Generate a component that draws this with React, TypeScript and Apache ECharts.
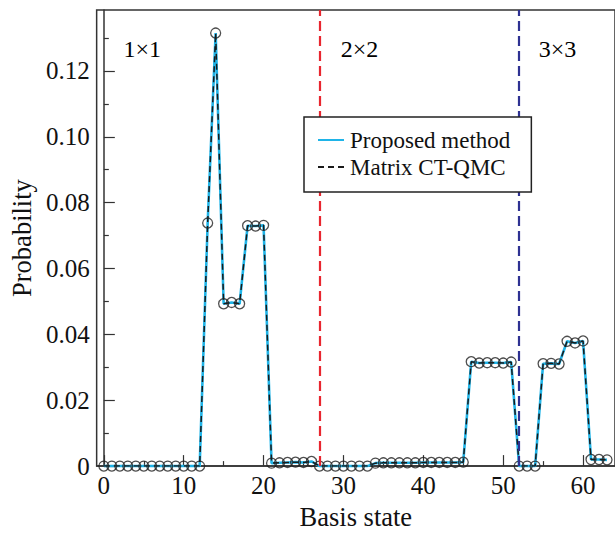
import React, { useEffect, useRef } from "react";
import * as echarts from "echarts";

const states: number[] = Array.from({ length: 64 }, (_, i) => i);

const proposed: number[] = [
  0, 0, 0, 0, 0, 0, 0, 0, 0, 0, 0, 0, 0,
  0.0738, 0.1315, 0.0493, 0.0497, 0.0493, 0.073, 0.0729, 0.0731,
  0.0009, 0.001, 0.0011, 0.0012, 0.0011, 0.0014,
  0, 0, 0, 0, 0, 0, 0,
  0.0009, 0.001, 0.001, 0.001, 0.001, 0.001, 0.0011, 0.0011, 0.0011, 0.0011, 0.0011, 0.0012,
  0.0317, 0.0313, 0.0314, 0.0314, 0.0313, 0.0316,
  0, 0, 0,
  0.0311, 0.0312, 0.031, 0.0379, 0.0374, 0.038,
  0.002, 0.002, 0.0019,
];

const matrixCTQMC: number[] = proposed.slice();

const xMajorTicks: number[] = [0, 10, 20, 30, 40, 50, 60];
const xMinorTicks: number[] = [5, 15, 25, 35, 45, 55];
const yMajorTicks: number[] = [0, 0.02, 0.04, 0.06, 0.08, 0.1, 0.12];
const yMinorTicks: number[] = [0.01, 0.03, 0.05, 0.07, 0.09, 0.11, 0.13];

const dividers: number[] = [27, 52];
const dividerColors: string[] = ["#e8262f", "#2e3192"];

const regionLabels: string[] = ["1×1", "2×2", "3×3"];
const regionLabelX: number[] = [4.8, 32, 56.8];
const regionLabelY: number = 0.1266;

const FONT = "'Liberation Serif', 'Times New Roman', serif";

export default function App() {
  const ref = useRef<HTMLDivElement>(null);
  useEffect(() => {
    if (!ref.current) return;
    const chart = echarts.init(ref.current, undefined, { renderer: "svg" });
    const xmin = -0.9;
    const xmax = 64;
    const ymin = 0;
    const ymax = 0.1385;
    const axisColor = "#333";
    const textColor = "#111";
    const option: any = {
      animation: false,
      backgroundColor: "#ffffff",
      grid: {
        left: 96,
        right: 0,
        top: 10,
        bottom: 61,
        show: true,
        borderColor: axisColor,
        borderWidth: 1.5,
        backgroundColor: "transparent",
      },
      legend: {
        orient: "vertical",
        left: 304,
        top: 117,
        z: 30,
        padding: [11, 21, 13, 13],
        itemWidth: 26,
        itemHeight: 14,
        itemGap: 3,
        borderColor: "#222",
        borderWidth: 1.5,
        borderRadius: 0,
        backgroundColor: "#ffffff",
        itemStyle: { opacity: 0, borderWidth: 0 },
        textStyle: { fontFamily: FONT, fontSize: 23, color: textColor, lineHeight: 24, padding: [0, 0, 0, 1] },
        data: ["Proposed method", "Matrix CT-QMC"],
      },
      xAxis: [
        {
          type: "value",
          min: xmin,
          max: xmax,
          name: "Basis state",
          nameLocation: "middle",
          nameGap: 33,
          nameTextStyle: { fontFamily: FONT, fontSize: 26.5, color: textColor },
          axisLine: { show: true, lineStyle: { color: axisColor, width: 1.5 } },
          axisTick: {
            show: true,
            inside: true,
            length: 11,
            customValues: xMajorTicks,
            lineStyle: { color: axisColor, width: 1.2 },
          },
          axisLabel: {
            customValues: xMajorTicks,
            fontFamily: FONT,
            fontSize: 25,
            color: textColor,
            margin: 7,
          },
          splitLine: { show: false },
        },
        {
          type: "value",
          min: xmin,
          max: xmax,
          position: "bottom",
          axisLine: { show: false },
          axisTick: {
            show: true,
            inside: true,
            length: 5,
            customValues: xMinorTicks,
            lineStyle: { color: axisColor, width: 1.2 },
          },
          axisLabel: { show: false },
          splitLine: { show: false },
        },
      ],
      yAxis: [
        {
          type: "value",
          min: ymin,
          max: ymax,
          name: "Probability",
          nameLocation: "middle",
          nameGap: 56,
          nameRotate: 90,
          nameTextStyle: { fontFamily: FONT, fontSize: 26.5, color: textColor },
          axisLine: { show: true, lineStyle: { color: axisColor, width: 1.5 } },
          axisTick: {
            show: true,
            inside: true,
            length: 11,
            customValues: yMajorTicks,
            lineStyle: { color: axisColor, width: 1.2 },
          },
          axisLabel: {
            customValues: yMajorTicks,
            fontFamily: FONT,
            fontSize: 25,
            color: textColor,
            margin: 7,
            formatter: (v: number) => (Math.abs(v) < 1e-9 ? "0" : v.toFixed(2)),
          },
          splitLine: { show: false },
        },
        {
          type: "value",
          min: ymin,
          max: ymax,
          position: "left",
          axisLine: { show: false },
          axisTick: {
            show: true,
            inside: true,
            length: 5,
            customValues: yMinorTicks,
            lineStyle: { color: axisColor, width: 1.2 },
          },
          axisLabel: { show: false },
          splitLine: { show: false },
        },
      ],
      series: [
        {
          name: "Proposed method",
          type: "line",
          symbol: "none",
          data: states.map((s, i) => [s, proposed[i]]),
          lineStyle: { color: "#1fb4e8", width: 2.6 },
          itemStyle: { color: "#1fb4e8" },
          z: 2,
          markLine: {
            silent: true,
            symbol: "none",
            label: { show: false },
            data: dividers.map((d, i) => ({
              xAxis: d,
              lineStyle: { color: dividerColors[i], width: 2.2, type: [10, 5] },
            })),
          },
        },
        {
          name: "Matrix CT-QMC",
          type: "line",
          symbol: "none",
          data: states.map((s, i) => [s, matrixCTQMC[i]]),
          lineStyle: { color: "#1a1a1a", width: 1.5, type: [6, 4] },
          itemStyle: { color: "#1a1a1a" },
          z: 3,
        },
        {
          name: "markers",
          type: "scatter",
          symbol: "circle",
          symbolSize: 10,
          data: states.map((s, i) => [s, matrixCTQMC[i]]),
          itemStyle: { color: "rgba(0,0,0,0)", borderColor: "#222", borderWidth: 1.3 },
          z: 4,
        },
      ],
    };
    chart.setOption(option);
    const graphics = regionLabels.map((t, i) => {
      const p = chart.convertToPixel({ gridIndex: 0 }, [regionLabelX[i], regionLabelY]) as number[];
      return {
        type: "text",
        x: p[0],
        y: p[1],
        z: 20,
        style: {
          text: t,
          fill: "#000",
          font: `24px ${FONT}`,
          align: "center",
          verticalAlign: "middle",
        },
      };
    });
    chart.setOption({ graphic: graphics });
    return () => chart.dispose();
  }, []);
  return (
    <div
      ref={ref}
      style={{ position: "fixed", left: 0, top: 0, width: 615, height: 535 }}
    />
  );
}
